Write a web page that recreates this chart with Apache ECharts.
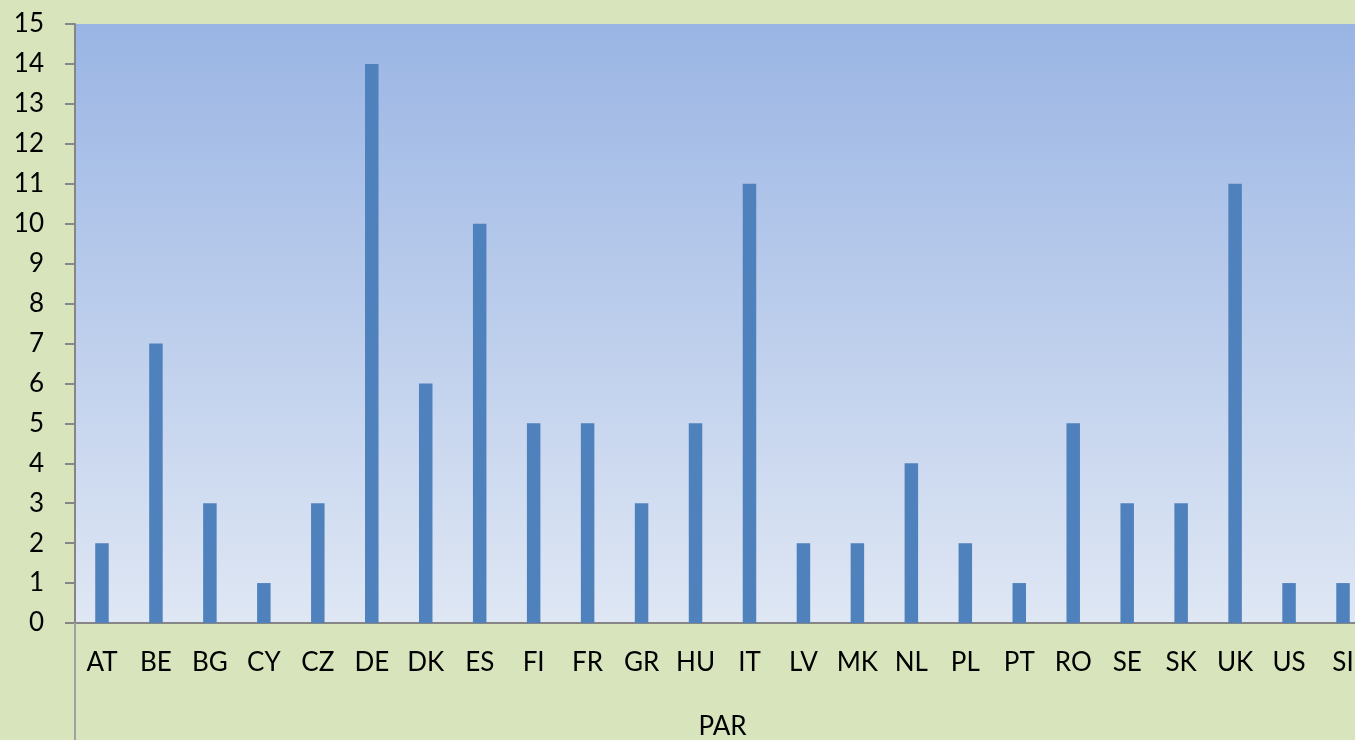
<!DOCTYPE html>
<html><head><meta charset="utf-8">
<script src="https://cdn.jsdelivr.net/npm/echarts@6/dist/echarts.min.js"></script>
<style>html,body{margin:0;padding:0;background:#D8E4BC;overflow:hidden;width:1355px;height:740px;}#c{width:1370px;height:740px;}</style>
</head><body><div id="c"></div>
<script>
const categories = ['AT','BE','BG','CY','CZ','DE','DK','ES','FI','FR','GR','HU','IT','LV','MK','NL','PL','PT','RO','SE','SK','UK','US','SI'];
const values = [2,7,3,1,3,14,6,10,5,5,3,5,11,2,2,4,2,1,5,3,3,11,1,1];
const groupLabels = ['PAR'];
const yTicks = {min:0, max:15, interval:1};

const chart = echarts.init(document.getElementById('c'));
const font = 'Lato, "Open Sans", sans-serif';
chart.setOption({
  backgroundColor:'#D8E4BC',
  animation:false,
  grid:{left:75, right:0, top:24, bottom:117, show:true, borderWidth:0,
    backgroundColor:{type:'linear',x:0,y:0,x2:0,y2:1,colorStops:[{offset:0,color:'#9AB5E4'},{offset:1,color:'#DFE7F4'}]}},
  xAxis:[{
    type:'category', data:categories, position:'bottom',
    axisLine:{show:true, lineStyle:{color:'#868686', width:2}},
    axisTick:{show:false},
    axisLabel:{color:'#000', fontSize:26, fontFamily:font, margin:27, interval:0}
  },{
    type:'category', data:groupLabels, position:'bottom', offset:0,
    axisLine:{show:false},
    axisTick:{show:true, length:117, lineStyle:{color:'#a0a0a0', width:2}},
    axisLabel:{color:'#000', fontSize:26, fontFamily:font, margin:91}
  }],
  yAxis:{
    type:'value', min:yTicks.min, max:yTicks.max, interval:yTicks.interval,
    axisLine:{show:true, lineStyle:{color:'#868686', width:2}},
    axisTick:{show:true, length:10, lineStyle:{color:'#868686', width:2}},
    splitLine:{show:false},
    axisLabel:{color:'#000', fontSize:26, fontFamily:font, margin:31}
  },
  series:[{type:'bar', data:values, xAxisIndex:0, barWidth:'25%', itemStyle:{color:'#4F81BD'}}]
});
</script></body></html>
